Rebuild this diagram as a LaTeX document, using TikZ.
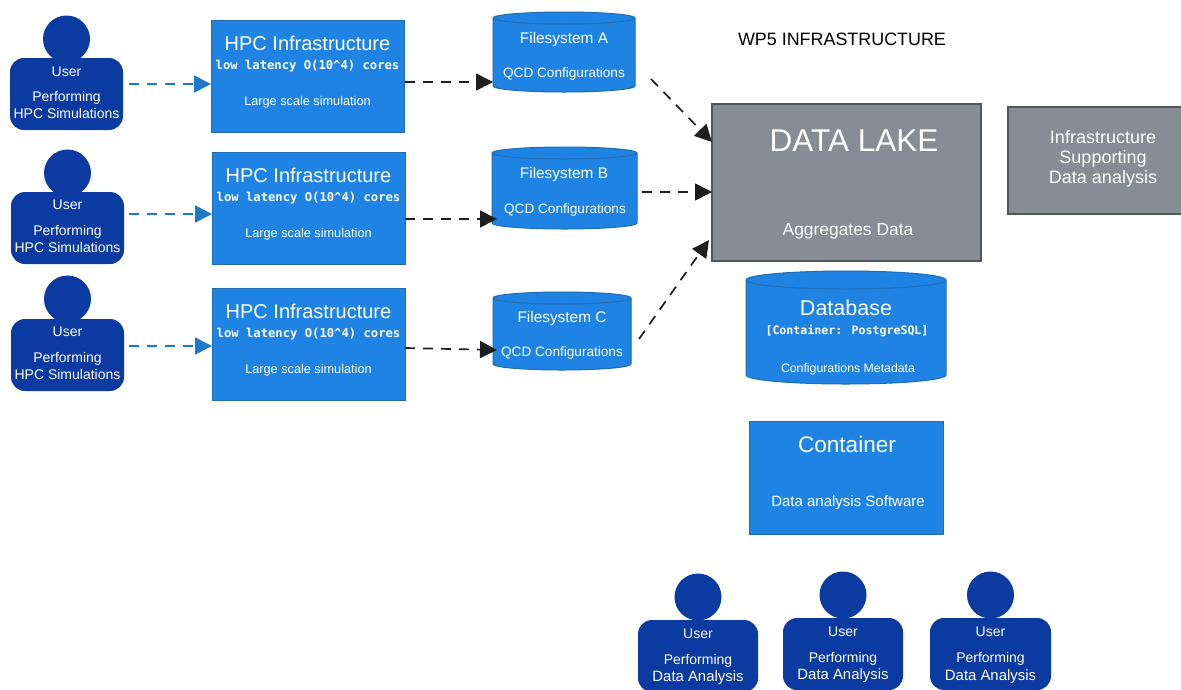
\documentclass[tikz,border=0pt]{standalone}
\usepackage{fontspec}
\setmainfont{Liberation Sans}
\newfontfamily\monob{DejaVu Sans Mono Bold}
\usetikzlibrary{arrows.meta,calc}
\definecolor{boxblue}{HTML}{1E83E2}
\definecolor{boxedge}{HTML}{1F6CB0}
\definecolor{userblue}{HTML}{0B3AA1}
\definecolor{lakegrey}{HTML}{868D96}
\definecolor{lakeedge}{HTML}{50565C}
\definecolor{flowblue}{HTML}{1F78C8}
\definecolor{flowblack}{HTML}{1E1E1E}
\newcommand{\fsz}[1]{\fontsize{#1}{#1}\selectfont}
\tikzset{
  boxnode/.style={draw=boxedge,fill=boxblue,line width=1pt,inner sep=0pt},
  lakenode/.style={draw=lakeedge,fill=lakegrey,line width=1.2pt,inner sep=0pt},
  drumline/.style={draw=boxedge,fill=boxblue,line width=1pt},
  lbl/.style={text=white,inner sep=0pt,anchor=center,align=center,yshift=-1.5pt},
  biglbl/.style={text=white,inner sep=0pt,anchor=center,align=center},
  darklbl/.style={text=black,inner sep=0pt,anchor=center,align=center},
  userhead/.style={circle,fill=userblue,inner sep=0pt,minimum size=#1},
  userbody/.style={rectangle,rounded corners=14pt,fill=userblue,inner sep=0pt},
  flowb/.style={draw=flowblue,line width=1.6pt,dash pattern=on 10pt off 8pt,-{Triangle[length=17pt,width=17pt]}},
  flowk/.style={draw=flowblack,line width=1.7pt,dash pattern=on 10pt off 8pt,-{Triangle[length=17pt,width=17pt]}}
}
% name, cx, head cy, body top, body width, user y, line1 y, line2 y, line2 text
\newcommand{\person}[9]{%
  \node[userhead=47pt] (#1h) at (#2,#3) {};
  \node[userbody,minimum width=#5pt,minimum height=72pt] (#1b) at (#2,#4+36) {};
  \node[biglbl] (#1t) at (#2,#6) {\fsz{14}User};
  \node[lbl] (#1p) at (#2,#7) {\fsz{14}Performing};
  \node[lbl] (#1q) at (#2,#8) {\fsz{14}#9};
}
% name, left, top, right, bottom, title y, mono y, sub y
\newcommand{\hpc}[8]{%
  \node[boxnode,minimum width=#4pt-#2pt,minimum height=#5pt-#3pt] (#1) at ({(#2+#4)/2},{(#3+#5)/2}) {};
  \node[biglbl] (#1a) at ({(#2+#4)/2},#6) {\fsz{20}HPC Infrastructure};
  \node[lbl] (#1b) at ({(#2+#4)/2},#7) {\monob\fsz{12.2}low latency O(10\textasciicircum 4) cores};
  \node[lbl] (#1c) at ({(#2+#4)/2},#8) {\fsz{12.7}Large scale simulation};
}
% name, left, top, right, bottom, cap half-height
\newcommand{\drum}[6]{%
  \path[drumline] (#2,#3+#6)
    .. controls (#2,#3+#6*0.45) and ({#2+(#4-#2)*0.22},#3) .. ({(#2+#4)/2},#3)
    .. controls ({#4-(#4-#2)*0.22},#3) and (#4,#3+#6*0.45) .. (#4,#3+#6)
    -- (#4,#5-#6)
    .. controls (#4,#5-#6*0.45) and ({#4-(#4-#2)*0.22},#5) .. ({(#2+#4)/2},#5)
    .. controls ({#2+(#4-#2)*0.22},#5) and (#2,#5-#6*0.45) .. (#2,#5-#6)
    -- cycle;
  \path[draw=boxedge,line width=1pt] (#2,#3+#6)
    .. controls (#2,#3+#6*1.55) and ({#2+(#4-#2)*0.22},#3+#6*2) .. ({(#2+#4)/2},#3+#6*2)
    .. controls ({#4-(#4-#2)*0.22},#3+#6*2) and (#4,#3+#6*1.55) .. (#4,#3+#6);
  \node[inner sep=0pt,minimum width=#4pt-#2pt,minimum height=#5pt-#3pt] (#1) at ({(#2+#4)/2},{(#3+#5)/2}) {};
}
\begin{document}
\begin{tikzpicture}[x=1pt,y=-1pt]
\useasboundingbox (0,0) rectangle (1181,689);
\clip (0,0) rectangle (1181,689);
\fill[white] (0,0) rectangle (1181,689);

\person{ua}{66.5}{39}{58}{113}{72}{96}{112}{HPC Simulations}
\person{ub}{67.5}{173}{192}{113}{205}{230}{246}{HPC Simulations}
\person{uc}{67.5}{299}{319}{113}{332}{357}{373}{HPC Simulations}

\hpc{ha}{211}{20}{404}{132}{43}{65}{101}
\hpc{hb}{212}{152}{405}{264}{175}{197}{233}
\hpc{hc}{212}{288}{405}{400}{311}{333}{369}

\drum{fa}{493}{12}{635}{92}{6}
\node[lbl] (fat) at (564,38.5) {\fsz{15.4}Filesystem A};
\node[lbl] (faq) at (564,72) {\fsz{13.6}QCD Configurations};
\drum{fb}{492}{147}{637}{229}{6}
\node[lbl] (fbt) at (564,173) {\fsz{15.4}Filesystem B};
\node[lbl] (fbq) at (565,208) {\fsz{13.6}QCD Configurations};
\drum{fc}{493}{292}{631}{370}{6}
\node[lbl] (fct) at (562,317) {\fsz{15.4}Filesystem C};
\node[lbl] (fcq) at (562,351) {\fsz{13.6}QCD Configurations};

\node[lakenode,minimum width=269pt,minimum height=157pt] (lake) at (846.5,182.5) {};
\node[biglbl] (laket) at (854,141) {\fsz{31.5}DATA LAKE};
\node[lbl] (lakes) at (848,230) {\fsz{17.4}Aggregates Data};

\node[lakenode,minimum width=175pt,minimum height=107pt] (infra) at (1095.5,160.5) {};
\node[lbl] (infraa) at (1103,136) {\fsz{18}Infrastructure};
\node[lbl] (infrab) at (1103,157) {\fsz{18}Supporting};
\node[lbl] (infrac) at (1103,177) {\fsz{18}Data analysis};

\node[darklbl] (title) at (842,39) {\fsz{17.9}WP5 INFRASTRUCTURE};

\drum{db}{746}{271}{946}{384}{9}
\node[biglbl] (dbt) at (846,308) {\fsz{21.5}Database};
\node[biglbl] (dbc) at (847,331) {\monob\fsz{11.6}[Container: PostgreSQL]};
\node[lbl] (dbm) at (848,368) {\fsz{12.3}Configurations Metadata};

\node[boxnode,minimum width=194pt,minimum height=113pt] (cont) at (846,477.5) {};
\node[biglbl] (contt) at (847,444) {\fsz{22.5}Container};
\node[lbl] (conts) at (848,501) {\fsz{15}Data analysis Software};

\person{da}{698}{597}{620}{120}{634}{659}{676}{\fsz{14.9}Data Analysis}
\person{dd}{843}{595}{618}{120}{632}{657}{674}{\fsz{14.9}Data Analysis}
\person{dc}{990.5}{595}{618}{121}{632}{657}{675}{\fsz{14.9}Data Analysis}

% free ends of the connectors
\coordinate (sa) at (129,84);
\coordinate (sb) at (129,214);
\coordinate (sc) at (129,346);
\coordinate (ta) at (211,84);
\coordinate (tb) at (212,214);
\coordinate (tc) at (212,346);
\draw[flowb] (sa) -- (ta);
\draw[flowb] (sb) -- (tb);
\draw[flowb] (sc) -- (tc);

\coordinate (ka) at (405,82);
\coordinate (la) at (493,82);
\coordinate (kb) at (405,219);
\coordinate (lb) at (497,219);
\coordinate (kc) at (405,348);
\coordinate (lc) at (497,350);
\draw[flowk] (ka) -- (la);
\draw[flowk] (kb) -- (lb);
\draw[flowk] (kc) -- (lc);

\coordinate (ma) at (651,79);
\coordinate (na) at (712,142);
\coordinate (mb) at (642,192);
\coordinate (nb) at (712,192);
\coordinate (mc) at (639,339);
\coordinate (nc) at (709,240);
\draw[flowk] (ma) -- (na);
\draw[flowk] (mb) -- (nb);
\draw[flowk] (mc) -- (nc);
\end{tikzpicture}
\end{document}
